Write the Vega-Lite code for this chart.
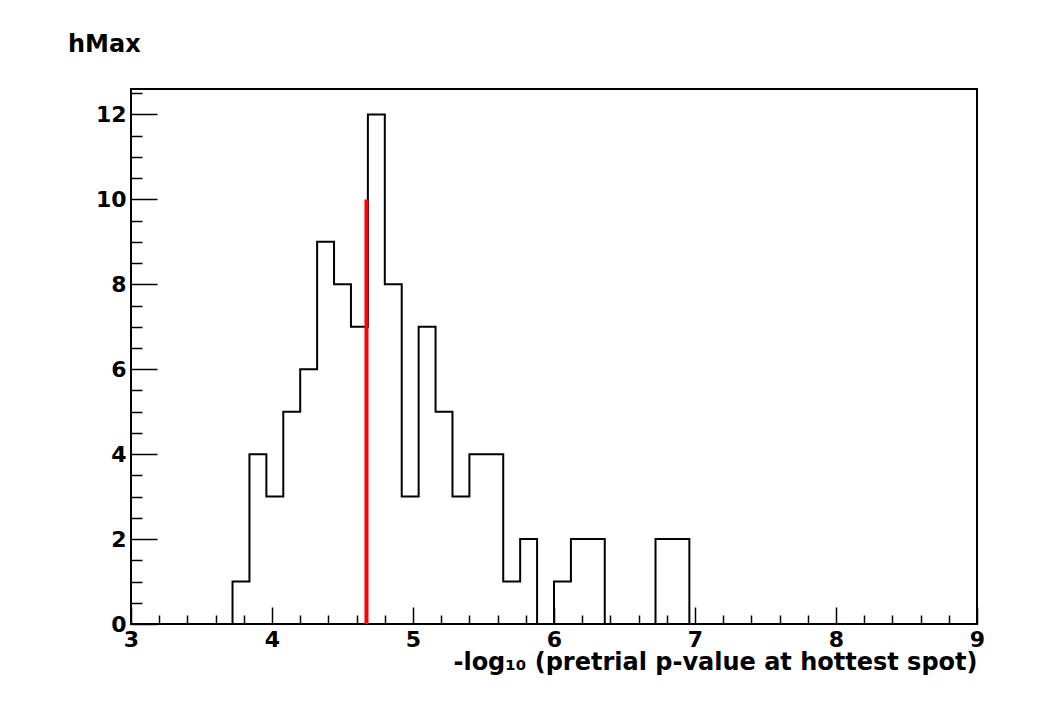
{
  "$schema": "https://vega.github.io/schema/vega-lite/v6.json",
  "width": 846,
  "height": 535,
  "autosize": {"type": "none"},
  "padding": {"left": 131, "top": 89, "right": 79, "bottom": 88},
  "background": "white",
  "title": {"text": "hMax", "anchor": "start", "frame": "group", "font": "DejaVu Sans", "fontWeight": "bold", "fontSize": 24, "color": "black", "dx": -63, "offset": 13, "baseline": "alphabetic"},
  "config": {"view": {"stroke": "black", "strokeWidth": 2}},
  "datasets": {
    "hist": [
      {"bin_start": 3.00, "count": 0}, {"bin_start": 3.12, "count": 0}, {"bin_start": 3.24, "count": 0},
      {"bin_start": 3.36, "count": 0}, {"bin_start": 3.48, "count": 0}, {"bin_start": 3.60, "count": 0},
      {"bin_start": 3.72, "count": 1}, {"bin_start": 3.84, "count": 4}, {"bin_start": 3.96, "count": 3},
      {"bin_start": 4.08, "count": 5}, {"bin_start": 4.20, "count": 6}, {"bin_start": 4.32, "count": 9},
      {"bin_start": 4.44, "count": 8}, {"bin_start": 4.56, "count": 7}, {"bin_start": 4.68, "count": 12},
      {"bin_start": 4.80, "count": 8}, {"bin_start": 4.92, "count": 3}, {"bin_start": 5.04, "count": 7},
      {"bin_start": 5.16, "count": 5}, {"bin_start": 5.28, "count": 3}, {"bin_start": 5.40, "count": 4},
      {"bin_start": 5.52, "count": 4}, {"bin_start": 5.64, "count": 1}, {"bin_start": 5.76, "count": 2},
      {"bin_start": 5.88, "count": 0}, {"bin_start": 6.00, "count": 1}, {"bin_start": 6.12, "count": 2},
      {"bin_start": 6.24, "count": 2}, {"bin_start": 6.36, "count": 0}, {"bin_start": 6.48, "count": 0},
      {"bin_start": 6.60, "count": 0}, {"bin_start": 6.72, "count": 2}, {"bin_start": 6.84, "count": 2},
      {"bin_start": 6.96, "count": 0}, {"bin_start": 7.08, "count": 0}, {"bin_start": 7.20, "count": 0},
      {"bin_start": 7.32, "count": 0}, {"bin_start": 7.44, "count": 0}, {"bin_start": 7.56, "count": 0},
      {"bin_start": 7.68, "count": 0}, {"bin_start": 7.80, "count": 0}, {"bin_start": 7.92, "count": 0},
      {"bin_start": 8.04, "count": 0}, {"bin_start": 8.16, "count": 0}, {"bin_start": 8.28, "count": 0},
      {"bin_start": 8.40, "count": 0}, {"bin_start": 8.52, "count": 0}, {"bin_start": 8.64, "count": 0},
      {"bin_start": 8.76, "count": 0}, {"bin_start": 8.88, "count": 0}
    ],
    "marker": [{"x": 4.67, "top": 10}]
  },
  "resolve": {"scale": {"x": "shared", "y": "shared"}, "axis": {"x": "independent", "y": "independent"}},
  "layer": [
    {
      "data": {"name": "hist"},
      "mark": {"type": "line", "interpolate": "step-after", "color": "black", "strokeWidth": 2},
      "encoding": {
        "x": {
          "field": "bin_start", "type": "quantitative",
          "scale": {"domain": [3, 9], "nice": false, "zero": false},
          "axis": {
            "orient": "bottom",
            "title": "-log₁₀ (pretrial p-value at hottest spot)",
            "titleAnchor": "end", "titleAlign": "right",
            "titleFont": "DejaVu Sans", "titleFontWeight": "bold", "titleFontSize": 24, "titleColor": "black",
            "titlePadding": 0,
            "values": [3, 4, 5, 6, 7, 8, 9],
            "format": "d",
            "labelFont": "DejaVu Sans", "labelFontWeight": "bold", "labelFontSize": 22, "labelColor": "black",
            "labelPadding": 22, "labelOverlap": false, "labelFlush": false,
            "tickColor": "black", "tickWidth": 1.5, "tickSize": -17,
            "domain": false, "grid": false
          }
        },
        "y": {
          "field": "count", "type": "quantitative",
          "scale": {"domain": [0, 12.6], "nice": false},
          "axis": {
            "orient": "left",
            "title": null,
            "values": [0, 2, 4, 6, 8, 10, 12],
            "format": "d",
            "labelFont": "DejaVu Sans", "labelFontWeight": "bold", "labelFontSize": 22, "labelColor": "black",
            "labelPadding": 31, "labelOverlap": false, "labelFlush": false,
            "tickColor": "black", "tickWidth": 1.5, "tickSize": -26,
            "domain": false, "grid": false
          }
        }
      }
    },
    {
      "data": {"name": "marker"},
      "mark": {"type": "rule", "color": "#ff0000", "strokeWidth": 4},
      "encoding": {
        "x": {
          "field": "x", "type": "quantitative",
          "scale": {"domain": [3, 9], "nice": false, "zero": false},
          "axis": {
            "orient": "bottom", "title": null, "labels": false, "domain": false, "grid": false,
            "values": [3.2, 3.4, 3.6, 3.8, 4.2, 4.4, 4.6, 4.8, 5.2, 5.4, 5.6, 5.8, 6.2, 6.4, 6.6, 6.8, 7.2, 7.4, 7.6, 7.8, 8.2, 8.4, 8.6, 8.8],
            "tickColor": "black", "tickWidth": 1.5, "tickSize": -9
          }
        },
        "y": {
          "field": "top", "type": "quantitative",
          "scale": {"domain": [0, 12.6], "nice": false},
          "axis": {
            "orient": "left", "title": null, "labels": false, "domain": false, "grid": false,
            "values": [0.5, 1, 1.5, 2.5, 3, 3.5, 4.5, 5, 5.5, 6.5, 7, 7.5, 8.5, 9, 9.5, 10.5, 11, 11.5, 12.5],
            "tickColor": "black", "tickWidth": 1.5, "tickSize": -11
          }
        },
        "y2": {"datum": 0}
      }
    }
  ]
}
